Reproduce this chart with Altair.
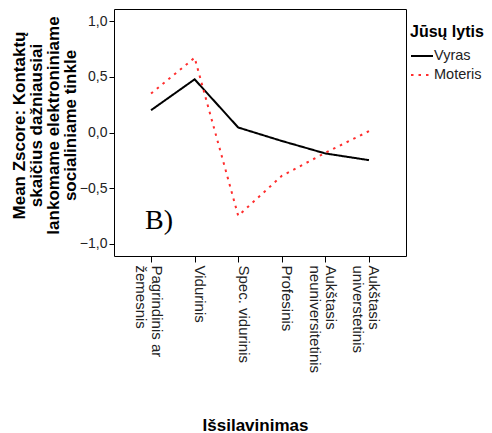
import altair as alt
import pandas as pd

categories = ["Pagrindinis ar\nžemesnis", "Vidurinis", "Spec. vidurinis", "Profesinis",
              "Aukštasis\nneuniversitetinis", "Aukštasis\nuniverstetinis"]
vyras = [0.20, 0.477, 0.045, -0.076, -0.188, -0.248]
moteris = [0.349, 0.671, -0.747, -0.389, -0.182, 0.012]
series = ["Vyras", "Moteris"]
colors = ["#000000", "#ff2e2e"]
dashes = [[1, 0], [2.5, 5]]
y_ticks = [-1.0, -0.5, 0.0, 0.5, 1.0]

rows = []
for c, a, b in zip(categories, vyras, moteris):
    rows.append({"cat": c, "val": a, "lytis": "Vyras"})
    rows.append({"cat": c, "val": b, "lytis": "Moteris"})
df = pd.DataFrame(rows)

ann = pd.DataFrame({"cat": [categories[0]], "val": [-0.866], "txt": ["B)"]})

x_enc = alt.X("cat:N", sort=categories, scale=alt.Scale(type="point", padding=0.85),
              axis=alt.Axis(title="Išsilavinimas", labelAngle=90, labelAlign="left",
                            labelBaseline="alphabetic", labelFontSize=15, labelColor="#222222",
                            labelPadding=3, tickSize=6, tickColor="#000000", domain=False,
                            labelExpr="split(datum.label, '\\n')", labelLineHeight=16,
                            titleFontSize=17, titleFontWeight="bold", titleX=141, titleY=174,
                            titleBaseline="alphabetic", titleAlign="center"))
y_scale = alt.Scale(domain=[-1.108, 1.108], nice=False, zero=False)

lines = alt.Chart(df).mark_line(strokeWidth=2).encode(
    x=x_enc,
    y=alt.Y("val:Q", scale=y_scale,
            axis=alt.Axis(values=y_ticks, title=["Mean Zscore:  Kontaktų", "skaičius dažniausiai",
                                                 "lankomame elektroniniame", "socialiniame tinkle"],
                          labelExpr="replace(format(datum.value, '.1f'), '.', ',')",
                          labelFontSize=14, labelColor="#222222", labelPadding=2, tickSize=5,
                          tickColor="#000000", domain=False, grid=False,
                          titleFontSize=17, titleFontWeight="bold", titleLineHeight=17,
                          titleX=-95, titleY=116, titleAlign="center", titleBaseline="middle",
                          titleAngle=-90)),
    color=alt.Color("lytis:N", sort=series, scale=alt.Scale(domain=series, range=colors),
                    legend=alt.Legend(title="Jūsų lytis", orient="none", legendX=296, legendY=15,
                                      titleFontSize=16, titleFontWeight="bold", labelFontSize=14.5,
                                      symbolType="stroke", symbolSize=484, symbolStrokeWidth=2,
                                      labelOffset=0, rowPadding=-6, titlePadding=4)),
    strokeDash=alt.StrokeDash("lytis:N", sort=series, scale=alt.Scale(domain=series, range=dashes),
                              legend=None),
)

label = alt.Chart(ann).mark_text(font="Liberation Serif", fontSize=28, align="left",
                                 baseline="alphabetic", dx=-6, color="#000000").encode(
    x=alt.X("cat:N", sort=categories), y=alt.Y("val:Q", scale=y_scale), text="txt:N")

chart = alt.layer(lines, label).properties(
    width=292, height=247,
    autosize=alt.AutoSizeParams(type="none"),
    padding={"left": 106, "top": 1, "right": 78, "bottom": 180},
).configure(font="Liberation Sans").configure_view(stroke="#000000", strokeWidth=1).configure_legend(
    labelColor="#222222", titleColor="#000000")

chart.save("out.html", embed_options={"renderer": "svg", "actions": False})
